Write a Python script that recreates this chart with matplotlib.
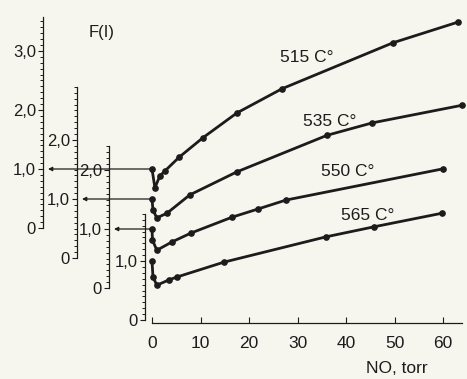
import numpy as np
import matplotlib
matplotlib.use("Agg")
import matplotlib.pyplot as plt
from matplotlib.ticker import FixedLocator, FuncFormatter

plt.rcParams['font.family'] = ['Liberation Sans', 'DejaVu Sans']

# NO pressure (torr) and F(I) for each temperature
no_515 = [0, 0.6, 1.6, 2.7, 5.6, 10.5, 17.5, 26.8, 49.7, 63.1]
f_515 = [1.0, 0.68, 0.88, 0.97, 1.20, 1.53, 1.95, 2.36, 3.14, 3.49]

no_535 = [0, 0.2, 1.0, 3.1, 7.8, 17.5, 36.1, 45.4, 64.0]
f_535 = [1.0, 0.81, 0.68, 0.76, 1.07, 1.46, 2.08, 2.29, 2.59]

no_550 = [0, 0.1, 1.0, 4.1, 8.0, 16.5, 21.9, 27.6, 60.0]
f_550 = [1.0, 0.81, 0.64, 0.78, 0.93, 1.20, 1.34, 1.49, 2.02]

no_565 = [0, 0.2, 1.0, 3.5, 5.2, 14.8, 35.9, 45.8, 59.8]
f_565 = [1.0, 0.73, 0.59, 0.68, 0.73, 0.98, 1.41, 1.58, 1.81]

labels = ['515 C°', '535 C°', '550 C°', '565 C°']
x_ticks = [0, 10, 20, 30, 40, 50, 60]

# layout (pixels of the 467x379 picture)
W, H = 467, 379
ink = '#1c1c1c'
bg = '#f7f6ee'
px_per_torr = 4.85
x0_px = 152          # NO = 0
ax_left, ax_right = 145, 465
ax_bottom, ax_top = 323, 5
px_per_unit = 59
zero_px = [228, 258, 288, 320]     # where F = 0 sits for each staggered axis
spine_px = [43, 77, 109, 145]
spine_top = [3.58, 2.9, 2.4, 1.8]
label_px = [(307, 57), (330, 122), (348, 172), (368, 216)]

series = [(no_515, f_515), (no_535, f_535), (no_550, f_550), (no_565, f_565)]

fig = plt.figure(figsize=(W / 100, H / 100), dpi=100, facecolor=bg)
rect = [ax_left / W, 1 - ax_bottom / H, (ax_right - ax_left) / W, (ax_bottom - ax_top) / H]
xlim = ((ax_left - x0_px) / px_per_torr, (ax_right - x0_px) / px_per_torr)

fmt = FuncFormatter(lambda v, p: '0' if abs(v) < 1e-9 else f'{v:.1f}'.replace('.', ','))

axes = []
for k, (xs, ys) in enumerate(series):
    ax = fig.add_axes(rect, label=labels[k])
    ax.patch.set_visible(False)
    z = zero_px[k]
    ax.set_xlim(*xlim)
    ax.set_ylim((z - ax_bottom) / px_per_unit, (z - ax_top) / px_per_unit)

    for s in ['top', 'right', 'bottom']:
        ax.spines[s].set_visible(False)
    ax.spines['left'].set_position(('outward', (ax_left - spine_px[k]) * 0.72))
    ax.spines['left'].set_bounds(0, spine_top[k])
    ax.spines['left'].set_linewidth(0.9)
    ax.spines['left'].set_color(ink)

    ax.yaxis.set_major_locator(FixedLocator([v for v in [0, 1, 2, 3] if v <= spine_top[k]]))
    ax.yaxis.set_minor_locator(FixedLocator(np.arange(0, spine_top[k] + 1e-6, 0.1)))
    ax.yaxis.set_major_formatter(fmt)
    ax.tick_params(axis='y', which='major', direction='out', length=3.5, width=0.8,
                   colors=ink, labelsize=12, pad=1.5)
    ax.tick_params(axis='y', which='minor', direction='out', length=2, width=0.7, colors=ink)
    ax.tick_params(axis='x', bottom=False, labelbottom=False)

    ax.plot(xs, ys, color=ink, lw=2.0, marker='o', ms=3.8, solid_capstyle='round',
            solid_joinstyle='round')
    lx, ly = label_px[k]
    ax.text((lx - x0_px) / px_per_torr, (z - ly) / px_per_unit, labels[k],
            fontsize=12.5, color=ink, ha='center', va='center')
    axes.append(ax)

# arrows from the NO = 0 point of each curve to its own axis
for k in range(3):
    ax = axes[k]
    tip = (spine_px[k] + 5 - x0_px) / px_per_torr
    ax.annotate('', xy=(tip, series[k][1][0]), xytext=(series[k][0][0], series[k][1][0]),
                annotation_clip=False,
                arrowprops=dict(arrowstyle='-|>', color=ink, lw=0.9, mutation_scale=6,
                                shrinkA=0, shrinkB=0))

# bottom axis on the innermost axes
ax = axes[3]
ax.spines['bottom'].set_visible(True)
ax.spines['bottom'].set_bounds(0, 64)
ax.spines['bottom'].set_linewidth(0.9)
ax.spines['bottom'].set_color(ink)
ax.set_xticks(x_ticks)
ax.tick_params(axis='x', bottom=True, labelbottom=True, direction='in', length=4,
               width=0.8, colors=ink, labelsize=12.5, pad=9)
ax.set_xlabel('NO, torr', fontsize=12.5, color=ink)
ax.xaxis.set_label_coords((397 - ax_left) / (ax_right - ax_left), (ax_bottom - 361) / (ax_bottom - ax_top))

axes[0].text((102 - x0_px) / px_per_torr, (zero_px[0] - 33) / px_per_unit, 'F(I)',
             fontsize=12, color=ink, ha='center', va='center')

fig.savefig('out.png', dpi=100, facecolor=bg)
